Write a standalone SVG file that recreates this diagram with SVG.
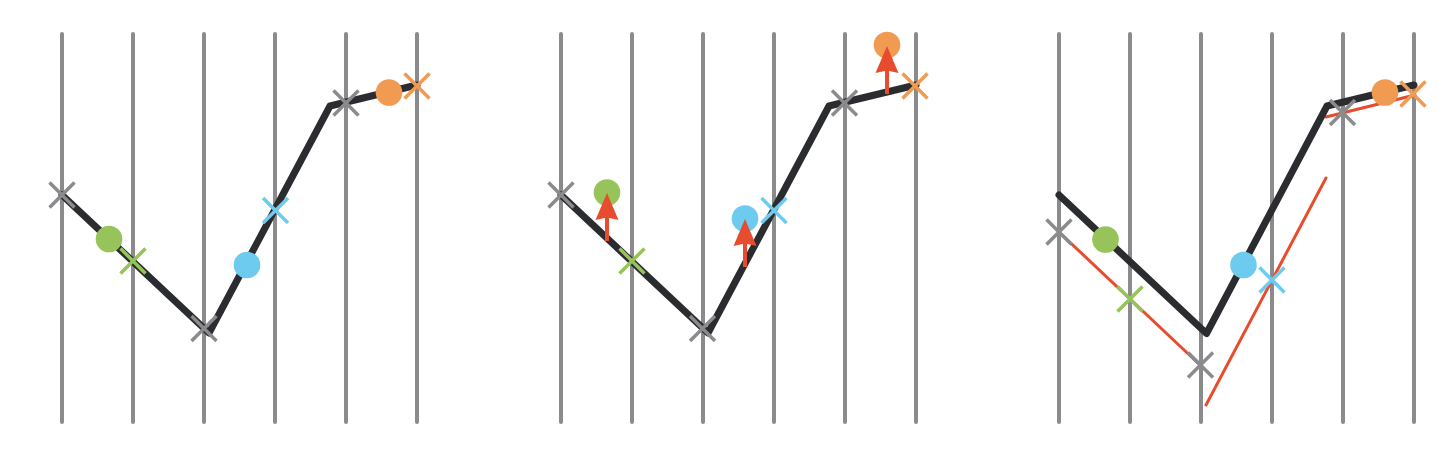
<svg xmlns="http://www.w3.org/2000/svg" xmlns:xlink="http://www.w3.org/1999/xlink" width="1448" height="452" viewBox="0 0 1448 452">
<style>
.grid{stroke:#8b8b8e;stroke-width:4;stroke-linecap:round;fill:none}
.path{stroke:#2b2c30;stroke-width:7;stroke-linecap:round;stroke-linejoin:round;fill:none}
.red{stroke:#e84c2e;stroke-width:3;stroke-linecap:round;fill:none}
.shaft{stroke:#e84c2e;stroke-width:4;fill:none}
.head{fill:#e84c2e}
.xg{stroke:#8b8b8e;stroke-width:3.5;fill:none}
.xgr{stroke:#96c45a;stroke-width:3.5;fill:none}
.xb{stroke:#6ccbef;stroke-width:3.5;fill:none}
.xo{stroke:#f09a52;stroke-width:3.5;fill:none}
.cg{fill:#96c45a}
.cb{fill:#6ccbef}
.co{fill:#f09a52}
</style>
<defs>
<path id="x" d="M-12.5,-12.5L12.5,12.5M-12.5,12.5L12.5,-12.5"/>
<path id="ah" d="M0,0L11.5,27L0,24.5L-11.5,27Z"/>
<g id="grid">
<path class="grid" d="M62,34V422M133,34V422M204,34V422M275,34V422M346,34V422M417,34V422"/>
</g>
</defs>

<g id="panel1">
<use xlink:href="#grid"/>
<g id="connectors1">
<polyline class="path" points="62,195 209,333 330,106 417,85"/>
</g>
<g id="p1-circles">
<circle class="cg" cx="109" cy="239" r="13.3"/>
<circle class="cb" cx="247" cy="265" r="13.3"/>
<circle class="co" cx="389" cy="92.5" r="13.3"/>
</g>
<g id="p1-marks">
<use xlink:href="#x" class="xg" x="62" y="195"/>
<use xlink:href="#x" class="xgr" x="133" y="261"/>
<use xlink:href="#x" class="xg" x="204" y="328.5"/>
<use xlink:href="#x" class="xb" x="275.5" y="210.5"/>
<use xlink:href="#x" class="xg" x="346" y="103"/>
<use xlink:href="#x" class="xo" x="417" y="86"/>
</g>
</g>

<g id="panel2">
<use xlink:href="#grid" x="499"/>
<g id="connectors2">
<polyline class="path" points="561,195 708,333 829,106 916,85"/>
</g>
<g id="p2-circles">
<circle class="cg" cx="607" cy="192.5" r="13.3"/>
<circle class="cb" cx="745" cy="218.5" r="13.3"/>
<circle class="co" cx="887" cy="45" r="13.3"/>
</g>
<g id="p2-marks">
<use xlink:href="#x" class="xg" x="561" y="195"/>
<use xlink:href="#x" class="xgr" x="632" y="261"/>
<use xlink:href="#x" class="xg" x="702.5" y="328.5"/>
<use xlink:href="#x" class="xb" x="774" y="210.5"/>
<use xlink:href="#x" class="xg" x="844.5" y="103"/>
<use xlink:href="#x" class="xo" x="915" y="86"/>
</g>
<g id="p2-arrows">
<path class="shaft" d="M607,241V215"/>
<use xlink:href="#ah" class="head" x="607" y="193"/>
<path class="shaft" d="M745,267V241"/>
<use xlink:href="#ah" class="head" x="745" y="219"/>
<path class="shaft" d="M887,94V68"/>
<use xlink:href="#ah" class="head" x="887" y="46"/>
</g>
</g>

<g id="panel3">
<use xlink:href="#grid" x="997"/>
<g id="connectors3">
<path class="red" d="M1059,232L1200,365"/>
<path class="red" d="M1206,405L1326,178"/>
<path class="red" d="M1326,117L1415,95"/>
<polyline class="path" points="1059,195 1206.5,333.5 1327,106 1414,85"/>
</g>
<g id="p3-circles">
<circle class="cg" cx="1105.5" cy="239.5" r="13.3"/>
<circle class="cb" cx="1243.5" cy="265" r="13.3"/>
<circle class="co" cx="1385" cy="92.5" r="13.3"/>
</g>
<g id="p3-marks">
<use xlink:href="#x" class="xg" x="1059" y="232"/>
<use xlink:href="#x" class="xgr" x="1130" y="299"/>
<use xlink:href="#x" class="xg" x="1200.5" y="365"/>
<use xlink:href="#x" class="xb" x="1272" y="280"/>
<use xlink:href="#x" class="xg" x="1342.5" y="112.5"/>
<use xlink:href="#x" class="xo" x="1413" y="94"/>
</g>
</g>
</svg>
